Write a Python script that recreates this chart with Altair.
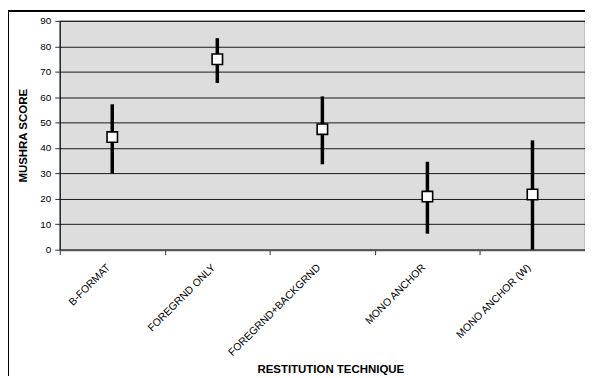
import altair as alt
import pandas as pd

categories = ["B-FORMAT", "FOREGRND ONLY", "FOREGRND+BACKGRND", "MONO ANCHOR", "MONO ANCHOR (W)"]
means = [44.3, 74.9, 47.4, 20.9, 21.7]
lows = [30.0, 65.6, 33.6, 6.3, 0.0]
highs = [57.2, 83.2, 60.3, 34.6, 43.0]
y_ticks = [0, 10, 20, 30, 40, 50, 60, 70, 80, 90]

df = pd.DataFrame({"cat": categories, "mean": means, "low": lows, "high": highs})

FONT = "Liberation Sans"

x_axis = alt.Axis(labelAngle=-45, labelAlign="right", labelBaseline="middle",
                  labelFontSize=10.5, labelFont=FONT, labelColor="#000",
                  labelOffset=-4, labelPadding=11,
                  tickBand="extent", tickSize=5, tickColor="#333",
                  domainColor="#555", domainWidth=2,
                  titleFont=FONT, titleFontSize=11.5, titleFontWeight="bold",
                  titleColor="#000", titlePadding=6, titleX=272)

y_scale = alt.Scale(domain=[0, 90], nice=False)
y_axis = alt.Axis(values=y_ticks, labelOverlap=False,
                  labelFontSize=10, labelFont=FONT, labelColor="#000",
                  tickSize=5, tickColor="#333", domainColor="#000",
                  grid=True, gridColor="#1a1a1a", gridWidth=1,
                  titleFont=FONT, titleFontSize=11.5, titleFontWeight="bold",
                  titleColor="#000", titlePadding=11, labelPadding=4)

x_enc = alt.X("cat:N", sort=categories, title="RESTITUTION TECHNIQUE",
              scale=alt.Scale(paddingInner=0, paddingOuter=0), axis=x_axis)

bars = alt.Chart(df).mark_rule(color="#000", strokeWidth=3.5).encode(
    x=x_enc,
    y=alt.Y("low:Q", scale=y_scale, axis=y_axis, title="MUSHRA SCORE"),
    y2="high:Q",
)

points = alt.Chart(df).mark_point(shape="square", filled=True, fill="#fff",
                                  stroke="#000", strokeWidth=1.6, size=110, opacity=1).encode(
    x=x_enc,
    y=alt.Y("mean:Q", scale=y_scale, axis=y_axis, title="MUSHRA SCORE"),
)

frame_top = alt.Chart(df).mark_rule(color="#000", strokeWidth=1.2).encode(
    x=alt.value(-52), x2=alt.value(620), y=alt.value(-10)
)
frame_left = alt.Chart(df).mark_rule(color="#000", strokeWidth=1.2).encode(
    x=alt.value(-52), y=alt.value(-10), y2=alt.value(400)
)

chart = alt.layer(bars, points, frame_top, frame_left).properties(
    width=528, height=230,
    padding={"left": 52, "top": 12, "right": 0, "bottom": 126},
    autosize=alt.AutoSizeParams(type="none"),
    background="#ffffff",
).configure_view(
    fill="#dddddd", stroke="#6c8088", strokeWidth=1.2
)

chart.save("out.html", embed_options={"renderer": "svg", "actions": False})
